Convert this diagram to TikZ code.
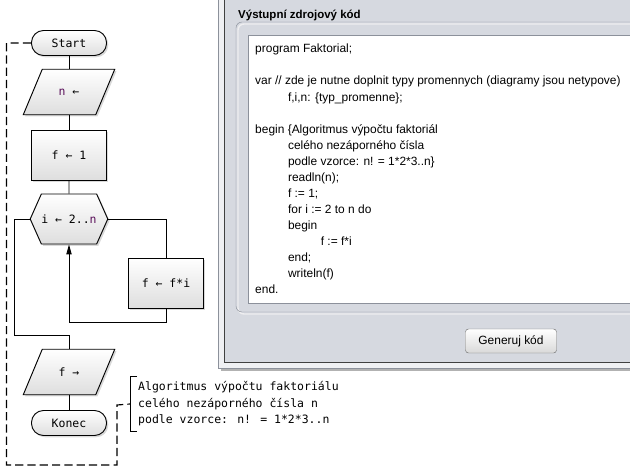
\documentclass[tikz,border=0pt]{standalone}
\usepackage{fontspec}
\setmainfont{Liberation Sans}
\newfontfamily\flowfont{DejaVu Sans Mono}
\definecolor{panelgrey}{RGB}{214,217,224}
\definecolor{framegrey}{RGB}{140,145,155}
\definecolor{shapegrey}{RGB}{222,222,222}
\definecolor{varpurple}{RGB}{90,15,90}
\usetikzlibrary{arrows.meta,shapes.symbols,shadows,backgrounds}

\begin{document}
\begin{tikzpicture}[x=0.03cm,y=-0.03cm,
    flowfill/.style={draw,line width=0.8pt,top color=white,bottom color=shapegrey,
      drop shadow={shadow xshift=1.5pt,shadow yshift=-1.5pt,opacity=0.3}},
    flowbox/.style={flowfill,font=\flowfont\fontsize{9.8}{12}\selectfont,inner sep=0pt,
      minimum width=2.25cm,minimum height=1.5cm},
    termbox/.style={flowbox,rounded corners=0.36cm,minimum height=0.75cm},
    iotext/.style={font=\flowfont\fontsize{9.8}{12}\selectfont,inner sep=0pt,
      minimum width=2.16cm,minimum height=1.35cm},
    loopbox/.style={flowbox,signal,signal to=east and west,signal pointer angle=132},
    link/.style={line width=0.8pt},
    uitext/.style={font=\fontsize{10.2}{13.7}\selectfont}]
  \useasboundingbox (0,0) rectangle (630,472);
  \clip (0,0) rectangle (630,472);

  % okno s vystupnim kodem
  \fill[black!30] (221,-5) rectangle (640,371);
  \filldraw[fill=panelgrey!40,draw=framegrey] (218,-5) rectangle (640,368);
  \filldraw[fill=panelgrey,draw=black!75] (224,-5) rectangle (640,362);
  \node[anchor=base west,font=\bfseries\fontsize{9.8}{12}\selectfont,inner sep=0pt]
    (paneltitle) at (238,18) {Výstupní zdrojový kód};
  \draw[white!85!framegrey,line width=1.2pt,rounded corners=0.18cm] (238,24) rectangle (645,314);
  \draw[framegrey,rounded corners=0.18cm] (236,22) rectangle (645,312);
  \filldraw[fill=white,draw=framegrey] (248,35) rectangle (640,303);
  \node[anchor=north west,align=left,inner sep=0pt,uitext] (code) at (255,44)
    {program Faktorial;\\\mbox{}\\
     var // zde je nutne doplnit typy promennych (diagramy jsou netypove)\\
     \hspace*{28pt}f,i,n: \{typ\_promenne\};\\\mbox{}\\
     begin \{Algoritmus výpočtu faktoriál\\
     \hspace*{28pt}celého nezáporného čísla\\
     \hspace*{28pt}podle vzorce: n! = 1*2*3..n\}\\
     \hspace*{28pt}readln(n);\\
     \hspace*{28pt}f := 1;\\
     \hspace*{28pt}for i := 2 to n do\\
     \hspace*{28pt}begin\\
     \hspace*{56pt}f := f*i\\
     \hspace*{28pt}end;\\
     \hspace*{28pt}writeln(f)\\
     end.};
  \node[draw=black!55,rounded corners=0.09cm,top color=white,bottom color=black!15,
    minimum width=2.73cm,minimum height=0.72cm,inner sep=0pt,uitext]
    (generate) at (511,341) {Generuj kód};

  % vyvojovy diagram
  \node[termbox] (start) at (69,43) {Start};
  \node[iotext] (readn) at (69,92) {\textcolor{varpurple}{n} ←};
  \node[flowbox] (setf) at (69,155) {f ← 1};
  \node[loopbox] (loop) at (69,219) {i ← 2..\textcolor{varpurple}{n}};
  \node[flowbox] (mult) at (166,283) {f ← f*i};
  \node[iotext] (writef) at (69,372) {f →};
  \node[termbox] (konec) at (69,423) {Konec};

  % kosodelniky vstupu a vystupu
  \begin{scope}[on background layer]
    \foreach \io in {readn,writef}
      \path[flowfill] ([xshift=0.285cm]\io.north west) -- ([xshift=0.285cm]\io.north east)
        -- ([xshift=-0.285cm]\io.south east) -- ([xshift=-0.285cm]\io.south west) -- cycle;
  \end{scope}

  \draw[link] (start) -- (readn);
  \draw[link] (readn) -- (setf);
  \draw[link] (setf) -- (loop);
  \draw[link] (loop.east) -| (mult.north);
  \draw[link,-{Triangle[length=8.5pt,width=4.5pt]}] (mult.south) -- ++(0,14) -| (loop.south);
  \coordinate (loopexit) at (69,335);
  \draw[link] (loop.west) -- ++(-15,0) |- (loopexit) -- (writef.north);
  \draw[link] (writef) -- (konec);

  % komentar
  \node[anchor=west,align=left,inner sep=0pt,inner xsep=0.24cm,minimum height=1.62cm,
    font=\flowfont\fontsize{9.8}{14}\selectfont] (note) at (130,404)
    {Algoritmus výpočtu faktoriálu\\celého nezáporného čísla n\\podle vzorce: n! = 1*2*3..n};
  \draw[link] ([xshift=0.21cm]note.north west) -- (note.north west)
    -- (note.south west) -- ([xshift=0.21cm]note.south west);
  \coordinate (notedown) at (6.5,465);
  \coordinate (noteup) at (117,405);
  \draw[line width=1pt,dash pattern=on 7pt off 3.5pt] (start.west) -| (notedown) -| (noteup) -- (note.west);
\end{tikzpicture}
\end{document}
